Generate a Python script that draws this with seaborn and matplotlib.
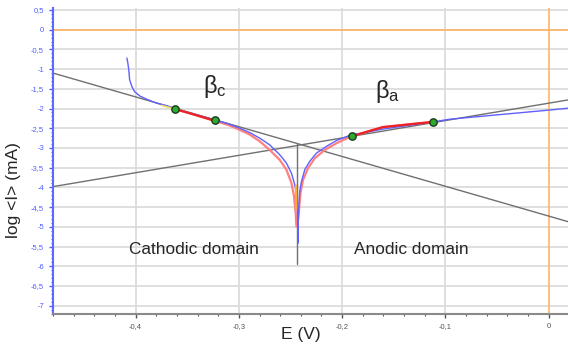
"""Tafel plot: log current vs potential with fitted Tafel slopes."""

import matplotlib
matplotlib.use("Agg")

import matplotlib.pyplot as plt
import matplotlib.ticker as mticker
import pandas as pd
import seaborn as sns

# measured curve (blue)
meas_E = [-0.4084, -0.4075, -0.4065, -0.4058, -0.4035, -0.401, -0.396, -0.3896, -0.380, -0.370,
          -0.3622, -0.345, -0.3234, -0.31, -0.30, -0.2895, -0.2798, -0.2702, -0.2605, -0.254,
          -0.2491, -0.2459, -0.2443, -0.2433, -0.2427, -0.2425,
          -0.2427, -0.2418, -0.2411, -0.2394, -0.2362, -0.2314, -0.2249, -0.2152, -0.2055, -0.1926,
          -0.1604, -0.1125, -0.0957, -0.05, 0.0, 0.019]
meas_logI = [-0.72, -0.85, -1.05, -1.27, -1.45, -1.57, -1.68, -1.76, -1.86, -1.93,
             -2.01, -2.13, -2.29, -2.39, -2.49, -2.61, -2.75, -2.92, -3.17, -3.38,
             -3.64, -3.93, -4.15, -4.48, -5.25, -5.41,
             -5.0, -4.40, -4.10, -3.85, -3.55, -3.34, -3.13, -2.96, -2.81, -2.68,
             -2.52, -2.34, -2.27, -2.16, -2.04, -1.99]

# fitted curve (red)
fit_E = [-0.3622, -0.345, -0.3234, -0.31, -0.30, -0.2895, -0.2798, -0.2702, -0.2605, -0.254,
         -0.2491, -0.2466, -0.245, -0.2443, -0.2435, -0.242, -0.2404, -0.2379, -0.233, -0.2265,
         -0.2169, -0.2055, -0.1926, -0.175, -0.1604, -0.135, -0.1125]
fit_logI = [-2.01, -2.14, -2.31, -2.42, -2.53, -2.66, -2.83, -3.05, -3.30, -3.55,
            -3.89, -4.23, -4.65, -4.99, -4.99, -4.65, -4.15, -3.81, -3.51, -3.26,
            -3.05, -2.88, -2.72, -2.58, -2.47, -2.40, -2.34]

# Tafel lines (end points) and Ecorr marker
cath_E = [-0.48, 0.019]
cath_logI = [-1.10, -4.87]
anod_E = [-0.48, 0.019]
anod_logI = [-3.98, -1.78]
ecorr_E = [-0.2437, -0.2437]
ecorr_logI = [-2.90, -5.95]

# fit window points (green)
pts_E = [-0.3622, -0.3234, -0.1904, -0.1125]
pts_logI = [-2.01, -2.30, -2.69, -2.34]

yticks = [0.5, 0, -0.5, -1, -1.5, -2, -2.5, -3, -3.5, -4, -4.5, -5, -5.5, -6, -6.5, -7]
xticks = [-0.4, -0.3, -0.2, -0.1, 0]

sns.set_theme(style="white")
plt.rcParams["font.family"] = ["Liberation Sans", "DejaVu Sans"]

fig = plt.figure(figsize=(5.68, 3.46), dpi=100)
ax = fig.add_axes([53 / 568, 1 - 314 / 346, 515 / 568, 306 / 346])

for y in yticks:
    ax.axhline(y, color="#d9d9d9", lw=1.2, zorder=0)
for x in xticks[:-1]:
    ax.axvline(x, color="#d9d9d9", lw=1.2, zorder=0)
ax.axhline(0, color="#ffb366", lw=1.2, zorder=1)
ax.axvline(0, color="#ffb366", lw=1.2, zorder=1)

gray = "#707070"
for xs, ys in ((cath_E, cath_logI), (anod_E, anod_logI), (ecorr_E, ecorr_logI)):
    sns.lineplot(x=xs, y=ys, sort=False, estimator=None, color=gray, lw=1, ax=ax, zorder=2)

fit_df = pd.DataFrame({"E": fit_E, "logI": fit_logI})
sns.lineplot(data=fit_df, x="E", y="logI", sort=False, estimator=None,
             color="#ff8080", lw=1.6, ax=ax, zorder=3)
meas_df = pd.DataFrame({"E": meas_E, "logI": meas_logI})
sns.lineplot(data=meas_df, x="E", y="logI", sort=False, estimator=None,
             color="#6060ff", lw=1.0, ax=ax, zorder=4)

# darker red on the fitted windows
cath_win = fit_df[(fit_df["E"] >= pts_E[0]) & (fit_df["E"] <= pts_E[1])]
anod_win = fit_df[(fit_df["E"] >= pts_E[2] - 0.003) & (fit_df["E"] <= pts_E[3])]
for win in (cath_win, anod_win):
    sns.lineplot(data=win, x="E", y="logI", sort=False, estimator=None,
                 color="#ee2222", lw=1.6, ax=ax, zorder=5)

sns.lineplot(x=[-0.375, pts_E[0]], y=[-1.92, pts_logI[0]], sort=False, estimator=None,
             color="#f0e060", lw=1.2, ax=ax, zorder=5)
sns.lineplot(x=[-0.2447, -0.2445], y=[-3.95, -4.55], sort=False, estimator=None,
             color="#ffaa33", lw=1.6, ax=ax, zorder=5)

sns.scatterplot(x=pts_E, y=pts_logI, color="#2eaa2e", edgecolor="#1a3a1a", linewidth=1,
                s=28, ax=ax, zorder=6)

ax.text(-0.3234, -1.45, r"$\mathregular{β_c}$", fontsize=17, ha="center", va="center")
ax.text(-0.1558, -1.58, r"$\mathregular{β_a}$", fontsize=17, ha="center", va="center")
ax.text(-0.3438, -5.58, "Cathodic domain", fontsize=12.4, ha="center", va="center")
ax.text(-0.1326, -5.58, "Anodic domain", fontsize=12.4, ha="center", va="center")

ax.set_xlim(-0.48, 0.0187)
ax.set_ylim(-7.21, 0.55)

fmt = lambda v: ("%g" % v).replace(".", ",")
ax.set_yticks(yticks)
ax.set_yticklabels([fmt(v) for v in yticks])
ax.set_xticks(xticks)
ax.set_xticklabels([fmt(v) for v in xticks])
ax.yaxis.set_minor_locator(mticker.MultipleLocator(0.1))
ax.xaxis.set_minor_locator(mticker.MultipleLocator(0.02))

ax.tick_params(axis="y", which="major", colors="#4f5fff", labelsize=5.5, length=3, width=1, direction="out", left=True)
ax.tick_params(axis="y", which="minor", colors="#4f5fff", length=1.5, width=0.8, left=True)
ax.tick_params(axis="x", which="major", colors="#555555", labelsize=5.5, length=3, width=1, direction="out", bottom=True)
ax.tick_params(axis="x", which="minor", colors="#555555", length=1.5, width=0.8, bottom=True)

for side in ("top", "right"):
    ax.spines[side].set_visible(False)
ax.spines["left"].set_color("#5a6aff")
ax.spines["left"].set_linewidth(1.5)
ax.spines["bottom"].set_color("#8a8a8a")
ax.spines["bottom"].set_linewidth(1.5)

ax.set_xlabel("")
ax.set_ylabel("")
fig.text(301 / 568, 1 - 334 / 346, "E (V)", fontsize=12.5, ha="center", va="center")
fig.text(14 / 568, 1 - 190 / 346, "log <I> (mA)", fontsize=12.5, ha="center", va="center", rotation=90)

fig.savefig("out.png", dpi=100)
plt.close(fig)
